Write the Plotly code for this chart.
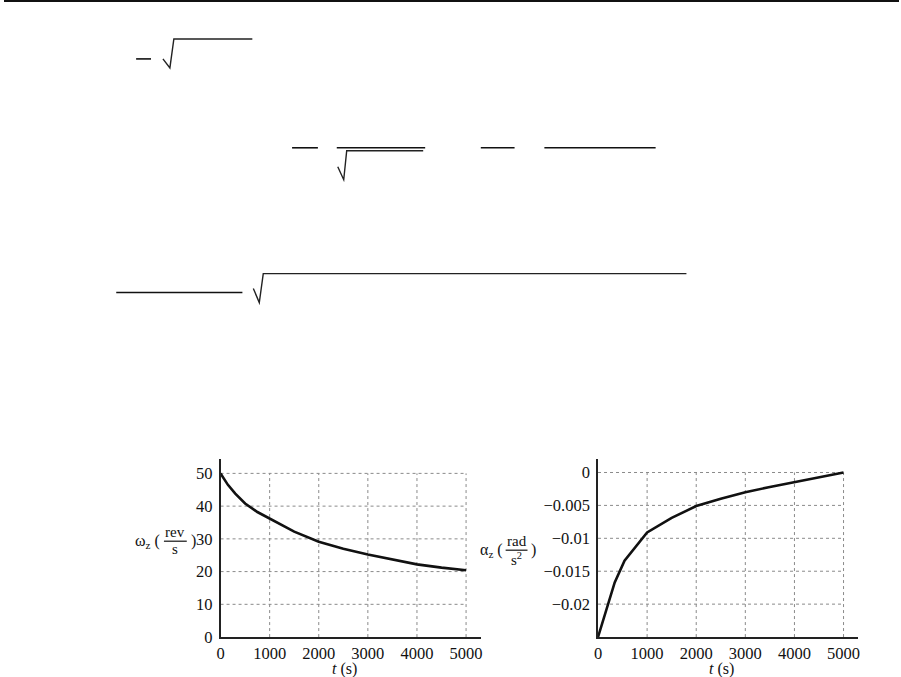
import plotly.graph_objects as go

W, H = 901, 677          # reference frame
H_PAGE = 686             # rendered page height (screenshot is compressed to 677)

# ---- data ----
t_omega = [0, 150, 300, 500, 750, 1000, 1250, 1500, 2000, 2500, 3000, 3500, 4000, 4500, 5000]
omega = [50, 46.5, 43.8, 40.8, 38.2, 36.2, 34.0, 32.2, 29.1, 27.0, 25.2, 23.6, 22.2, 21.2, 20.4]

t_alpha = [0, 200, 340, 540, 850, 1000, 1500, 2000, 2500, 3000, 3500, 4000, 4500, 5000]
alpha = [-0.025, -0.0200, -0.0167, -0.0134, -0.0105, -0.0091, -0.0069, -0.0051,
         -0.0040, -0.0030, -0.0022, -0.0015, -0.0008, 0.0]

x_ticks = [0, 1000, 2000, 3000, 4000, 5000]
omega_ticks = [0, 10, 20, 30, 40, 50]
alpha_ticks = [0, -0.005, -0.01, -0.015, -0.02]
alpha_ticktext = ["0", "\u22120.005", "\u22120.01", "\u22120.015", "\u22120.02"]

FONT = "Liberation Serif"


def px(x):
    return x / W


def py(y):
    return 1 - y / H


fig = go.Figure()
fig.add_trace(go.Scatter(x=t_omega, y=omega, mode="lines",
                         line=dict(color="#111", width=2.6), xaxis="x", yaxis="y",
                         showlegend=False))
fig.add_trace(go.Scatter(x=t_alpha, y=alpha, mode="lines",
                         line=dict(color="#111", width=2.6), xaxis="x2", yaxis="y2",
                         showlegend=False))

shapes = []
grid = dict(color="#8a8a8a", width=1, dash="dot")
# grid boxes
for xv in x_ticks[1:]:
    shapes.append(dict(type="line", xref="x", yref="y", x0=xv, x1=xv, y0=0, y1=max(omega_ticks), line=grid, layer="below"))
    shapes.append(dict(type="line", xref="x2", yref="y2", x0=xv, x1=xv, y0=-0.025, y1=max(alpha_ticks), line=grid, layer="below"))
for yv in omega_ticks[1:]:
    shapes.append(dict(type="line", xref="x", yref="y", x0=0, x1=max(x_ticks), y0=yv, y1=yv, line=grid, layer="below"))
for yv in alpha_ticks:
    shapes.append(dict(type="line", xref="x2", yref="y2", x0=0, x1=max(x_ticks), y0=yv, y1=yv, line=grid, layer="below"))


def hline(x0, x1, y, w=1.6, c="#111"):
    shapes.append(dict(type="line", xref="paper", yref="paper", x0=px(x0), x1=px(x1),
                       y0=py(y), y1=py(y), line=dict(color=c, width=w)))


def radical(pts):
    d = "M " + " L ".join(f"{px(a):.5f},{py(b):.5f}" for a, b in pts)
    shapes.append(dict(type="path", xref="paper", yref="paper", path=d,
                       line=dict(color="#222", width=1.4)))


# page decorations (equation rules / radicals of the scanned page)
hline(0, 901, 1, w=2.2)
hline(133, 148, 59)
radical([(160, 59), (167, 68), (171, 39), (250, 39)])
hline(290, 316, 148)
hline(335, 424, 148)
radical([(336, 167), (342, 180), (345, 151), (422, 151)])
hline(480, 514, 148)
hline(544, 656, 148)
hline(113, 240, 293)
radical([(251, 289), (257, 303), (261, 274), (687, 274)])

# fraction bars in axis titles
hline(161, 184, 542, w=1.2)
hline(505, 527, 551, w=1.2)

annotations = []


def txt(x, y, s, size=15, xanchor="center", yanchor="middle"):
    annotations.append(dict(x=px(x), y=py(y), xref="paper", yref="paper", text=s,
                            showarrow=False, xanchor=xanchor, yanchor=yanchor,
                            font=dict(family=FONT, size=size, color="#111")))


# left y title
txt(159, 542, "ω<sub>z</sub> (", size=16, xanchor="right")
txt(172.5, 533, "rev", size=15)
txt(172.5, 550, "s", size=15)
txt(186, 542, ")", size=16, xanchor="left")
# right y title
txt(504, 551, "α<sub>z</sub> (", size=16, xanchor="right")
txt(516, 542, "rad", size=15)
txt(516, 560, "s<sup>2</sup>", size=15)
txt(529, 551, ")", size=16, xanchor="left")
# x titles
txt(343, 670, "<i>t</i> (s)", size=16)
txt(722, 670, "<i>t</i> (s)", size=16)

axis_common = dict(showline=True, linecolor="#222", linewidth=1.6, showgrid=False,
                   zeroline=False, ticks="", tickfont=dict(family=FONT, size=16.5, color="#111"))

fig.update_layout(
    width=W, height=H_PAGE,
    margin=dict(l=0, r=0, t=0, b=0),
    paper_bgcolor="white", plot_bgcolor="white",
    showlegend=False,
    xaxis=dict(domain=[px(218), px(480)], range=[0, 5300], tickvals=x_ticks,
               anchor="y", **axis_common),
    yaxis=dict(domain=[py(638), py(460)], range=[0, 54.3], tickvals=omega_ticks,
               anchor="x", ticklabelstandoff=3, **axis_common),
    xaxis2=dict(domain=[px(598), px(860)], range=[0, 5300], tickvals=x_ticks,
                anchor="y2", **axis_common),
    yaxis2=dict(domain=[py(638), py(460)], range=[-0.025, 0.002], tickvals=alpha_ticks,
                ticktext=alpha_ticktext, anchor="x2", ticklabelstandoff=3, **axis_common),
    shapes=shapes,
    annotations=annotations,
)

post = (
    "document.body.style.margin='0';"
    "document.body.style.overflow='hidden';"
    "document.documentElement.style.overflow='hidden';"
)

fig.write_html("out.html", config={"displayModeBar": False}, post_script=post)
